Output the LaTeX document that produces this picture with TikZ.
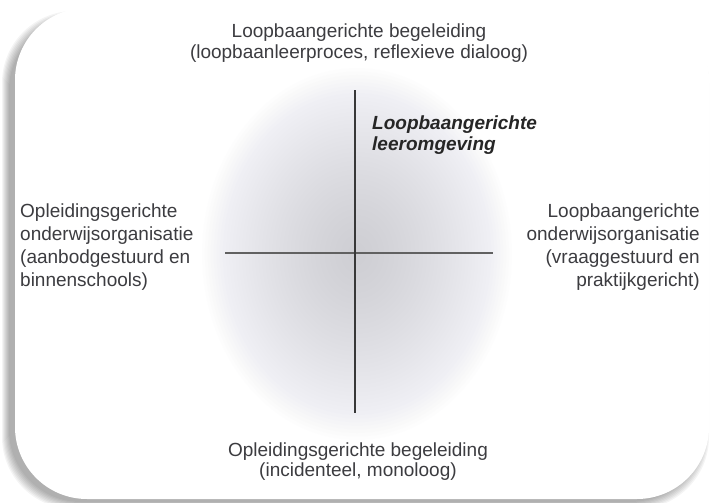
\documentclass[tikz,border=0pt]{standalone}
\usepackage{fontspec}
\setmainfont{Liberation Sans}
\definecolor{blobc}{RGB}{198,198,208}
\definecolor{txtc}{RGB}{60,60,64}
\begin{document}
\begin{tikzpicture}[x=1pt,y=-1pt,
  txt/.style={font=\fontsize{19}{20.5}\selectfont, text=txtc, inner sep=0pt},
  sidetxt/.style={font=\fontsize{19}{22.7}\selectfont, text=txtc, inner sep=0pt},
  keytxt/.style={font=\fontsize{19}{20.5}\selectfont\bfseries\itshape, text=black!85, inner sep=0pt},
  vline/.style={draw=black!78, line width=1.6pt},
  hline/.style={draw=black!62, line width=2.6pt},
  card/.style={fill=white, rounded corners=72pt},
  glow/.style={fill=blobc, opacity=0.025}]
\useasboundingbox (0,0) rectangle (712,503);
\fill[white] (0,0) rectangle (712,503);
% shadow of the card
\foreach \e in {0,1,...,7}{
  \fill[black, opacity=0.045, rounded corners=72pt]
    (9-\e,18-\e) rectangle (702+\e,502+\e);
}
% card
\fill[card] (15,8) rectangle (709,499);
% grey glow: stacked translucent ellipses
\foreach \k in {1,...,40}{
  \fill[glow] (357,254) ellipse [x radius={155*(\k/40)^0.75}, y radius={186*(\k/40)^0.75}];
}
% axes
\coordinate (vt) at (355,90);
\coordinate (vb) at (355,413);
\coordinate (hl) at (225,253);
\coordinate (hr) at (493,253);
\draw[hline] (hl) -- (hr);
\draw[vline] (vt) -- (vb);
% labels (anchor base = baseline of the last line)
\node[txt, align=center, anchor=base] (top) at (359,58.5)
  {Loopbaangerichte begeleiding\\(loopbaanleerproces, reflexieve dialoog)};
\node[txt, align=center, anchor=base] (bottom) at (358,476.5)
  {Opleidingsgerichte begeleiding\\(incidenteel, monoloog)};
\node[sidetxt, align=left, anchor=base west] (left) at (20,286)
  {Opleidingsgerichte\\onderwijsorganisatie\\(aanbodgestuurd en\\binnenschools)};
\node[sidetxt, align=right, anchor=base east] (right) at (700,286)
  {Loopbaangerichte\\onderwijsorganisatie\\(vraaggestuurd en\\praktijkgericht)};
\node[keytxt, align=left, anchor=base west] (key) at (372,150)
  {Loopbaangerichte\\leeromgeving};
\end{tikzpicture}
\end{document}
